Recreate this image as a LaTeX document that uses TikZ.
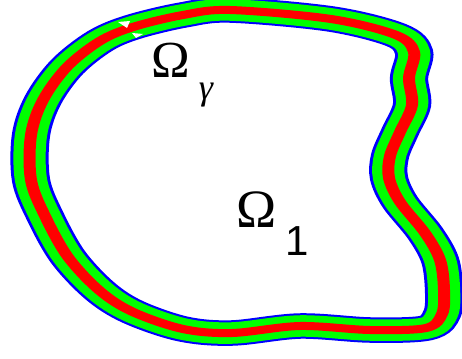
\documentclass[tikz,border=0pt]{standalone}
\usepackage{fontspec}
\setmainfont{Liberation Serif}
\newfontfamily\arialfont{Liberation Sans}
\begin{document}
\begin{tikzpicture}[x=1pt,y=-1pt,
  lab/.style={inner sep=0pt, outer sep=0pt}]
\useasboundingbox (0,0) rectangle (462,358);
\fill[white] (0,0) rectangle (462,358);
\begin{scope}[x=0.66667pt, y=-1pt, transform canvas={xscale=1.5}]
\def\curve{plot[smooth cycle, tension=0.55] coordinates {
(230,10) (331,19) (396,35) (414,52) (409,78) (412,105) (400,132) (390,156)
(389,178) (400,202) (425,233) (440,260) (444,290) (442,314) (426,328)
(370,330) (300,326) (232,333) (183,329) (133,312) (100,291) (68,257)
(45,216) (31,180) (31,135) (43,100) (67,67) (100,41) (133,27) (183,15)}}
\draw[blue, line width=25.5pt] \curve;
\draw[green, line width=21.5pt] \curve;
\draw[red, line width=8pt] \curve;
\end{scope}
\fill[white] (118,22) -- (130,21) -- (127,28) -- cycle;
\fill[white] (132,33) -- (143,34) -- (136,38) -- cycle;
\node[lab] (om) at (171,60) {\fontsize{52}{52}\selectfont Ω};
\node[lab] (gam) at (206,95) {\fontsize{36}{36}\selectfont\itshape γ};
\node[lab] (om1) at (257,210) {\fontsize{54}{54}\selectfont Ω};
\node[lab] (one) at (297,241) {\fontsize{42}{42}\selectfont\arialfont 1};
\end{tikzpicture}
\end{document}
